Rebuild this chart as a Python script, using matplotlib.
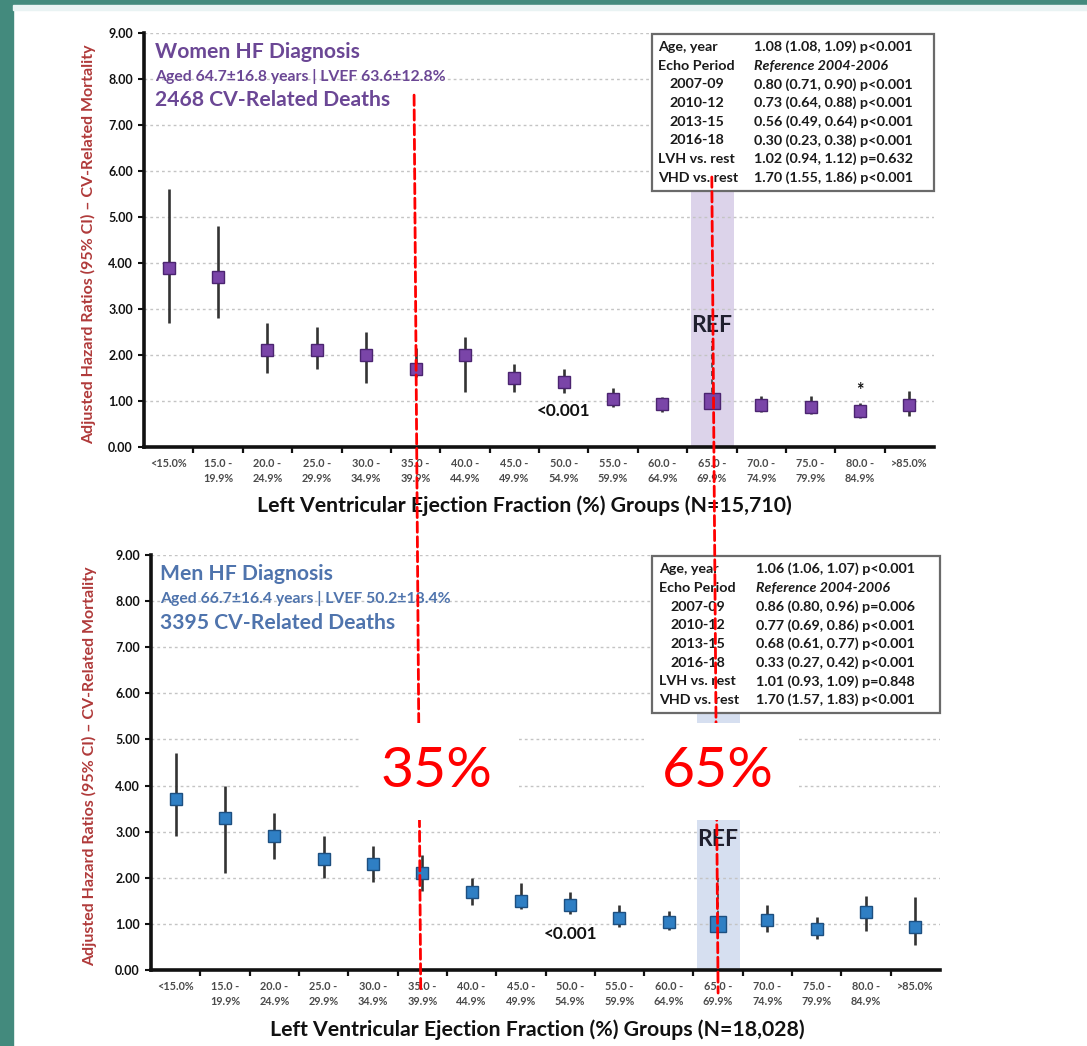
import matplotlib
matplotlib.use('Agg')
import matplotlib.pyplot as plt
from matplotlib.patches import Rectangle, ConnectionPatch
import numpy as np

plt.rcParams['font.family'] = ['Lato', 'DejaVu Sans']

# ---------------- data ----------------
categories = ['<15.0%', '15.0 -\n19.9%', '20.0 -\n24.9%', '25.0 -\n29.9%', '30.0 -\n34.9%',
              '35.0 -\n39.9%', '40.0 -\n44.9%', '45.0 -\n49.9%', '50.0 -\n54.9%', '55.0 -\n59.9%',
              '60.0 -\n64.9%', '65.0 -\n69.9%', '70.0 -\n74.9%', '75.0 -\n79.9%', '80.0 -\n84.9%', '>85.0%']
ref_index = 11

women_hr = [3.90, 3.70, 2.10, 2.10, 2.00, 1.70, 2.00, 1.50, 1.42, 1.04, 0.93, 1.00, 0.91, 0.88, 0.78, 0.91]
women_lo = [2.70, 2.80, 1.60, 1.70, 1.40, 1.52, 1.20, 1.20, 1.18, 0.88, 0.77, 1.00, 0.76, 0.71, 0.62, 0.67]
women_hi = [5.60, 4.80, 2.70, 2.60, 2.50, 2.15, 2.40, 1.80, 1.70, 1.29, 1.09, 1.00, 1.11, 1.11, 0.96, 1.22]

men_hr = [3.70, 3.30, 2.91, 2.40, 2.30, 2.10, 1.70, 1.50, 1.41, 1.12, 1.05, 1.00, 1.08, 0.89, 1.25, 0.93]
men_lo = [2.91, 2.11, 2.40, 2.00, 1.90, 1.71, 1.41, 1.32, 1.21, 0.93, 0.87, 1.00, 0.83, 0.67, 0.85, 0.54]
men_hi = [4.70, 3.99, 3.40, 2.91, 2.70, 2.49, 2.00, 1.89, 1.70, 1.40, 1.27, 1.00, 1.40, 1.16, 1.61, 1.58]

table_labels = ['Age, year', 'Echo Period', '2007-09', '2010-12', '2013-15', '2016-18',
                'LVH vs. rest', 'VHD vs. rest']
women_table = ['1.08 (1.08, 1.09) p<0.001', 'Reference 2004-2006', '0.80 (0.71, 0.90) p<0.001',
               '0.73 (0.64, 0.88) p<0.001', '0.56 (0.49, 0.64) p<0.001', '0.30 (0.23, 0.38) p<0.001',
               '1.02 (0.94, 1.12) p=0.632', '1.70 (1.55, 1.86) p<0.001']
men_table = ['1.06 (1.06, 1.07) p<0.001', 'Reference 2004-2006', '0.86 (0.80, 0.96) p=0.006',
             '0.77 (0.69, 0.86) p<0.001', '0.68 (0.61, 0.77) p<0.001', '0.33 (0.27, 0.42) p<0.001',
             '1.01 (0.93, 1.09) p=0.848', '1.70 (1.57, 1.83) p<0.001']

women_titles = ['Women HF Diagnosis', 'Aged 64.7\u00b116.8 years | LVEF 63.6\u00b112.8%', '2468 CV-Related Deaths']
men_titles = ['Men HF Diagnosis', 'Aged 66.7\u00b116.4 years | LVEF 50.2\u00b118.4%', '3395 CV-Related Deaths']
women_xlabel = 'Left Ventricular Ejection Fraction (%) Groups (N=15,710)'
men_xlabel = 'Left Ventricular Ejection Fraction (%) Groups (N=18,028)'
ylabel = 'Adjusted Hazard Ratios (95% CI) \u2013 CV-Related Mortality'
cut_labels = ['35%', '65%']
cut_positions = [5.47, 11.5]

# ---------------- figure ----------------
W, H = 1087, 1046
fig = plt.figure(figsize=(W / 100, H / 100), dpi=100)
fig.patch.set_facecolor('white')

# slide decoration
fig.add_artist(Rectangle((0, 0), 13 / W, 1, transform=fig.transFigure, color='#438a7d', zorder=-5))
fig.add_artist(Rectangle((0, 1 - 5 / H), 1, 5 / H, transform=fig.transFigure, color='#438a7d', zorder=-5))
fig.add_artist(Rectangle((13 / W, 1 - 10 / H), 1, 5 / H, transform=fig.transFigure, color='#e9f3f3', zorder=-5))


def ax_rect(l, r, t, b):
    return [l / W, 1 - b / H, (r - l) / W, (b - t) / H]


ax1 = fig.add_axes(ax_rect(144, 934, 33, 447))
ax2 = fig.add_axes(ax_rect(151, 940, 555, 970))

x = np.arange(len(categories)) + 0.5


def panel(ax, hr, lo, hi, mcolor, medge, band_color, titles, title_color, table_vals,
          xlabel, ylab_x, xlab_pos, ref_text_y, ref_line_top, title_x, box_x0, col_x):
    hr = np.array(hr); lo = np.array(lo); hi = np.array(hi)
    ax.set_xlim(0, 16)
    ax.set_ylim(0, 9)
    for s in ['top', 'right']:
        ax.spines[s].set_visible(False)
    for s in ['left', 'bottom']:
        ax.spines[s].set_linewidth(2.6)
        ax.spines[s].set_color('#111111')
    ax.set_yticks(np.arange(0, 10))
    ax.set_yticklabels(['%.2f' % v for v in np.arange(0, 10)])
    ax.tick_params(axis='y', length=4, width=1.5, pad=4, labelsize=9, colors='#111111')
    for lab in ax.get_yticklabels():
        lab.set_fontweight('bold')
    ax.set_xticks(x)
    ax.set_xticklabels(categories, fontsize=7.8, fontweight='bold', color='#4a4a4a', linespacing=1.45)
    ax.set_xticks(np.arange(1, 16), minor=True)
    ax.tick_params(axis='x', which='major', length=0, pad=8)
    ax.tick_params(axis='x', which='minor', length=4, width=1.6, color='#111111')
    # gridlines
    for yv in range(1, 10):
        ax.axhline(yv, color='#c4c4c4', lw=1.0, linestyle=(0, (2, 2.2)), zorder=0.5)
    # reference band
    ax.axvspan(ref_index + 0.07, ref_index + 0.95, color=band_color, zorder=0.3, lw=0)
    # points
    mask = np.arange(len(hr)) != ref_index
    ax.errorbar(x[mask], hr[mask], yerr=[hr[mask] - lo[mask], hi[mask] - hr[mask]], fmt='s',
                color='#333333', ecolor='#333333', elinewidth=1.9, capsize=0,
                markerfacecolor=mcolor, markeredgecolor=medge, markersize=8, markeredgewidth=1.0, zorder=3)
    ax.plot([x[ref_index], x[ref_index]], [hr[ref_index], ref_line_top], color='#404040',
            lw=1.2, linestyle=(0, (3, 2)), zorder=2.5)
    ax.plot([x[ref_index]], [hr[ref_index]], marker='s', markersize=11.5, markerfacecolor=mcolor,
            markeredgecolor=medge, markeredgewidth=1.0, zorder=3.5)
    ax.text(x[ref_index], ref_text_y, 'REF', ha='center', va='center', fontsize=16.5,
            fontweight='bold', color='#1f1f2e', zorder=4)
    ax.text(8.5, 0.79, '<0.001', ha='center', va='center', fontsize=12.4, fontweight='bold',
            color='#111111', zorder=4)
    # titles
    ax.text(title_x, 0.955, titles[0], transform=ax.transAxes, ha='left', va='center',
            fontsize=15.2, fontweight='bold', color=title_color)
    ax.text(title_x, 0.895, titles[1], transform=ax.transAxes, ha='left', va='center',
            fontsize=11.3, fontweight='bold', color=title_color)
    ax.text(title_x, 0.837, titles[2], transform=ax.transAxes, ha='left', va='center',
            fontsize=15.2, fontweight='bold', color=title_color)
    # table box
    by0 = 0.619
    ax.add_patch(Rectangle((box_x0, by0), 1.0 - box_x0, 0.998 - by0, transform=ax.transAxes,
                           facecolor='white', edgecolor='#6a6a6a', lw=1.6, zorder=5, clip_on=False))
    for i, (lab, val) in enumerate(zip(table_labels, table_vals)):
        yy = 0.966 - i * 0.0451
        lx = col_x[1] if 2 <= i <= 5 else col_x[0]
        ax.text(lx, yy, lab, transform=ax.transAxes, ha='left', va='center', fontsize=10.3,
                fontweight='bold', color='#1a1a1a', zorder=6)
        ax.text(col_x[2], yy, val, transform=ax.transAxes, ha='left', va='center', fontsize=10.3,
                fontweight='bold', color='#1a1a1a', zorder=6,
                fontstyle='italic' if i == 1 else 'normal')
    ax.set_xlabel(xlabel, fontsize=15.3, fontweight='bold', color='#111111')
    ax.xaxis.set_label_coords(xlab_pos, -0.118)
    ax.set_ylabel(ylabel, fontsize=11.5, fontweight='bold', color='#b03a3a')
    ax.yaxis.set_label_coords(ylab_x, 0.49)


panel(ax1, women_hr, women_lo, women_hi, '#7a45a8', '#4b2470', '#dcd3ea', women_titles, '#6b4795',
      women_table, women_xlabel, -0.061, 0.482, 2.65, 2.3, 0.014, 0.643, (0.651, 0.665, 0.772))
panel(ax2, men_hr, men_lo, men_hi, '#2f7fc4', '#1d4f80', '#d6dff0', men_titles, '#4f74ad',
      men_table, men_xlabel, -0.068, 0.490, 2.84, 2.0, 0.012, 0.635, (0.644, 0.658, 0.767))

# asterisk above 80.0-84.9% (women)
ax1.text(x[14], women_hi[14] + 0.27, '*', ha='center', va='center', fontsize=13, fontweight='bold',
         color='#111111')

# red dashed cut-off overlays spanning both panels
line_tops = [7.65, 5.87]
for cx, yt in zip(cut_positions, line_tops):
    cp = ConnectionPatch(xyA=(cx, yt), coordsA=ax1.transData, xyB=(cx, -0.5),
                         coordsB=ax2.transData, color='#ff0000', lw=2.0, linestyle=(0, (3.7, 1.6)),
                         arrowstyle='-', shrinkA=0, shrinkB=0, zorder=10)
    fig.add_artist(cp)

# white masks and big labels
mask_spans = [(4.23, 7.40), (10.0, 13.15)]
text_x = [5.78, 11.5]
for (m0, m1), tx, lab in zip(mask_spans, text_x, cut_labels):
    fig.add_artist(Rectangle((m0, 3.25), m1 - m0, 5.36 - 3.25, transform=ax2.transData,
                             facecolor='white', edgecolor='none', zorder=11))
    fig.text(tx, 4.30, lab, transform=ax2.transData, ha='center', va='center', fontsize=41,
             color='#ff0000', zorder=12)

fig.savefig('out.png', dpi=100, facecolor='white')
